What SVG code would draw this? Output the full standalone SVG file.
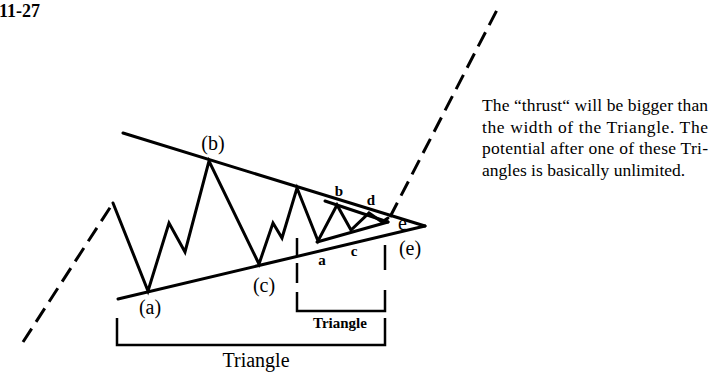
<svg xmlns="http://www.w3.org/2000/svg" width="727" height="372" viewBox="0 0 727 372">
<style>
.ln{fill:none;stroke:#000;stroke-width:3;stroke-linecap:round;stroke-linejoin:miter}
.br{fill:none;stroke:#000;stroke-width:2.5;stroke-linecap:butt}
.ds{fill:none;stroke:#000;stroke-width:3;stroke-dasharray:16 8}
.lbl{font-family:"Liberation Serif","Times New Roman",serif;font-size:20px;fill:#000}
.sm{font-family:"Liberation Serif","Times New Roman",serif;font-size:15px;font-weight:bold;fill:#000}
.note{font-family:"Liberation Serif","Times New Roman",serif;font-size:17.5px;fill:#000}
</style>
<rect width="727" height="372" fill="#fff"/>
<text x="-1" y="17" font-family="Liberation Serif, serif" font-size="18" font-weight="bold">11-27</text>
<g id="connectors">
  <line class="ln" x1="123" y1="133" x2="425" y2="226"/>
  <line class="ln" x1="118" y1="299" x2="425" y2="226"/>
  <line class="ds" x1="23" y1="342" x2="113" y2="203"/>
  <polyline class="ln" points="113,203 148,291 169,223 185,252 209,161 259,264 273,223 282,238 297,188 318,241 337,205 351,230 369,213 382,222 388,218"/>
  <line class="ln" x1="317" y1="242" x2="388" y2="222"/>
  <line class="ln" x1="325" y1="201" x2="388" y2="222"/>
  <line class="ds" x1="390" y1="217" x2="498" y2="8"/>
</g>
<g id="big-bracket">
  <polyline class="br" points="117,318 117,345 385,345 385,318"/>
</g>
<g id="small-bracket">
  <polyline class="br" points="297,292 297,311 385,311 385,290"/>
  <line class="br" x1="297" y1="238" x2="297" y2="256"/>
  <line class="br" x1="297" y1="263" x2="297" y2="283"/>
  <line class="br" x1="385" y1="245" x2="385" y2="270"/>
</g>
<g id="labels">
  <text class="lbl" x="150" y="314" text-anchor="middle">(a)</text>
  <text class="lbl" x="213" y="150" text-anchor="middle">(b)</text>
  <text class="lbl" x="264" y="292" text-anchor="middle">(c)</text>
  <text class="lbl" x="410" y="255" text-anchor="middle">(e)</text>
  <text class="sm" x="322" y="265" text-anchor="middle">a</text>
  <text class="sm" x="339" y="196" text-anchor="middle">b</text>
  <text class="sm" x="354" y="256" text-anchor="middle">c</text>
  <text class="sm" x="371" y="205" text-anchor="middle">d</text>
  <text class="lbl" x="398" y="230" font-size="14">e</text>
  <text class="sm" x="340" y="328" text-anchor="middle">Triangle</text>
  <text class="lbl" x="256" y="367" text-anchor="middle" font-size="19">Triangle</text>
</g>
<g id="note">
  <text class="note" x="482" y="111" textLength="226" lengthAdjust="spacing">The “thrust“ will be bigger than</text>
  <text class="note" x="482" y="133" textLength="226" lengthAdjust="spacing">the width of the Triangle.  The</text>
  <text class="note" x="482" y="154" textLength="226" lengthAdjust="spacing">potential after one of these Tri-</text>
  <text class="note" x="482" y="176">angles is basically unlimited.</text>
</g>
</svg>
